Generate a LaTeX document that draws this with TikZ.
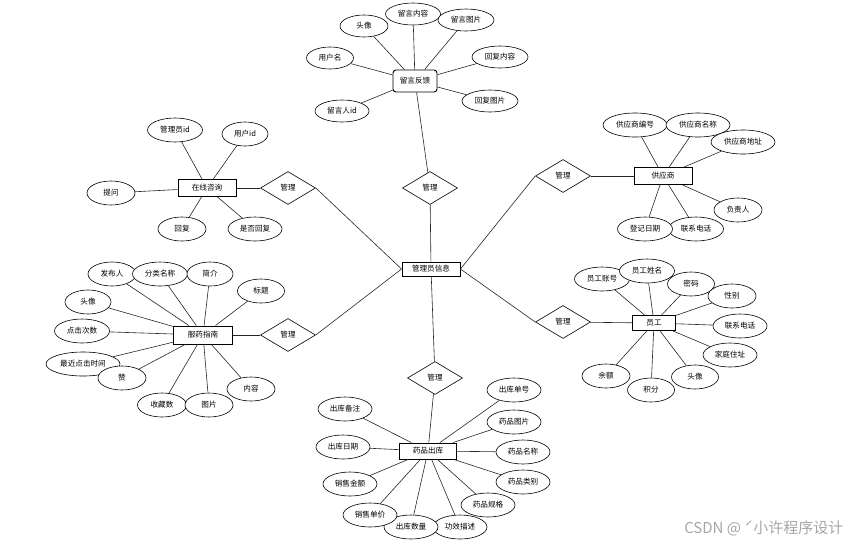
\documentclass[tikz,border=0pt]{standalone}
\usepackage{fontspec}
\setmainfont{Noto Sans CJK SC}
\usetikzlibrary{shapes.geometric}

\begin{document}
\begin{tikzpicture}[x=1pt,y=-1pt,
    every node/.style={font=\fontsize{7.6}{9}\selectfont},
    attr/.style={ellipse, draw, fill=white, line width=0.6pt, minimum width=48pt, minimum height=24pt, inner sep=0pt},
    ent/.style={rectangle, draw, fill=white, line width=0.9pt, minimum height=16pt, inner sep=0pt},
    rel/.style={diamond, draw, fill=white, line width=0.6pt, minimum width=55pt, minimum height=33pt, inner sep=0pt},
    lnk/.style={draw=black!85, line width=0.6pt}]
        \useasboundingbox (0,0) rectangle (850,544);
        % centre
        \node[ent, minimum width=58pt, minimum height=14pt] (gly) at (431,269) {管理员信息};
        \node[rel] (rtop) at (430,188) {管理}; \node[rel] (rbot) at (435,378) {管理};
        \node[rel] (rlt) at (288,188) {管理}; \node[rel] (rlb) at (288,335) {管理};
        \node[rel] (rrt) at (563,176) {管理}; \node[rel] (rrb) at (563,322) {管理};

        % entities
        \node[ent, rounded corners=3pt, minimum width=44pt, minimum height=22pt] (lyfk) at (415,81) {留言反馈};
        \node[ent, minimum width=58pt, minimum height=17pt] (zxzx) at (207,188) {在线咨询};
        \node[ent, minimum width=59pt, minimum height=18pt] (fyzn) at (203,335) {服药指南};
        \node[ent, minimum width=57pt, minimum height=16pt] (ypck) at (428,451) {药品出库};
        \node[ent, minimum width=58pt, minimum height=17pt] (gys) at (663,176) {供应商};
        \node[ent, minimum width=43pt, minimum height=15pt] (yg) at (654,323) {员工};

        % relations
        \draw[lnk] (lyfk) -- (rtop); \draw[lnk] (rtop) -- (gly);
        \draw[lnk] (gly) -- (rbot); \draw[lnk] (rbot) -- (ypck);
        \draw[lnk] (zxzx) -- (rlt); \draw[lnk] (rlt.east) -- (gly.west);
        \draw[lnk] (fyzn) -- (rlb); \draw[lnk] (rlb.east) -- (gly.west);
        \draw[lnk] (gys) -- (rrt); \draw[lnk] (rrt.west) -- (gly.east);
        \draw[lnk] (yg) -- (rrb); \draw[lnk] (rrb.west) -- (gly.east);

        % attributes
        \foreach \n/\t/\x/\y/\w in {a/头像/364/26/48, b/留言内容/413/14/55, c/留言图片/466/20/56, d/用户名/330/58/47, e/回复内容/500/57/56, f/回复图片/490/101/56, g/留言人id/342/111/54}
            {\node[attr, minimum width=\w pt, minimum height=22pt] (ly\n) at (\x,\y) {\t}; \draw[lnk] (lyfk) -- (ly\n);}
        \foreach \n/\t/\x/\y/\w in {a/管理员id/175/130/55, b/用户id/245/134/46, c/提问/111/193/48, d/回复/182/229/48, e/是否回复/255/229/54}
            {\node[attr, minimum width=\w pt] (zx\n) at (\x,\y) {\t}; \draw[lnk] (zxzx) -- (zx\n);}
        \foreach \n/\t/\x/\y/\w in {a/发布人/112/274/48, b/分类名称/160/274/55, c/简介/210/274/46, d/标题/261/291/47, e/头像/88/302/46, f/点击次数/82/331/55, g/最近点击时间/83/364/74, h/赞/122/378/48, i/收藏数/162/405/49, j/图片/209/405/48, k/内容/251/389/48}
            {\node[attr, minimum width=\w pt] (fy\n) at (\x,\y) {\t}; \draw[lnk] (fyzn) -- (fy\n);}
        \foreach \n/\t/\x/\y in {a/出库单号/514/390, b/药品图片/514/422, c/药品名称/523/452, d/药品类别/523/482, e/药品规格/488/505, f/功效描述/460/527, g/出库数量/411/527, h/销售单价/370/515, i/销售金额/350/484, j/出库日期/343/447, k/出库备注/345/409}
            {\node[attr, minimum width=54pt] (yp\n) at (\x,\y) {\t}; \draw[lnk] (ypck) -- (yp\n);}
        \foreach \n/\t/\x/\y/\w in {a/供应商编号/635/125/64, b/供应商名称/698/125/64, c/供应商地址/743/142/64, d/负责人/738/210/48, e/联系电话/696/229/55, f/登记日期/645/229/55}
            {\node[attr, minimum width=\w pt] (gy\n) at (\x,\y) {\t}; \draw[lnk] (gys) -- (gy\n);}
        \foreach \n/\t/\x/\y/\w in {a/员工账号/602/279/55, b/员工姓名/647/271/55, c/密码/691/284/47, d/性别/732/296/48, e/联系电话/740/326/54, f/家庭住址/730/355/54, g/头像/695/377/47, h/积分/651/390/47, i/余额/606/376/48}
            {\node[attr, minimum width=\w pt] (yg\n) at (\x,\y) {\t}; \draw[lnk] (yg) -- (yg\n);}

        \node[text=black!35, font=\fontsize{15}{16}\selectfont, anchor=east] (wm) at (847,528) {CSDN @ ˊ小许程序设计};
    \end{tikzpicture}
\end{document}
